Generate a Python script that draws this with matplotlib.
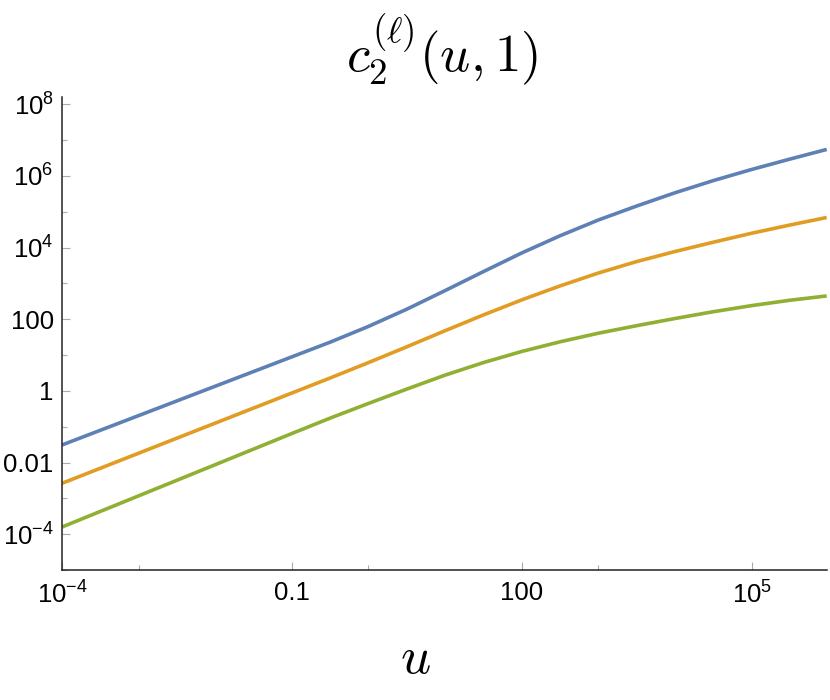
import numpy as np
import matplotlib
matplotlib.use("Agg")
import matplotlib.pyplot as plt
from matplotlib.ticker import FixedLocator, FixedFormatter

plt.rcParams['font.family'] = ['Liberation Sans', 'DejaVu Sans']
plt.rcParams['mathtext.fontset'] = 'custom'
plt.rcParams['mathtext.rm'] = 'Liberation Sans'
plt.rcParams['mathtext.it'] = 'Liberation Sans:italic'

# curve samples as log10 values
log_u = [-4, -3, -2, -1, -0.5, 0, 0.5, 1, 1.5, 2, 2.5, 3, 3.5, 4, 4.5, 5, 5.5, 5.98]
log_c_blue = [-1.51, -0.69, 0.13, 0.95, 1.36, 1.80, 2.28, 2.80, 3.33, 3.85, 4.33, 4.77,
              5.16, 5.53, 5.87, 6.18, 6.47, 6.74]
log_c_orange = [-2.58, -1.74, -0.90, -0.06, 0.36, 0.79, 1.23, 1.68, 2.12, 2.54, 2.93, 3.29,
                3.61, 3.89, 4.15, 4.40, 4.63, 4.84]
log_c_green = [-3.80, -2.93, -2.06, -1.19, -0.76, -0.35, 0.05, 0.44, 0.79, 1.10, 1.37, 1.61,
               1.82, 2.02, 2.21, 2.38, 2.53, 2.65]

colors = ['#5E81B5', '#E19C24', '#8FB032']

x_major = [1e-4, 0.1, 100, 1e5]
x_labels = [r'$\mathregular{10^{-4}}$', '0.1', '100', r'$\mathregular{10^{5}}$']
x_minor = [1e-3, 1, 1e3]
y_major = [1e-4, 1e-2, 1, 100, 1e4, 1e6, 1e8]
y_labels = [r'$\mathregular{10^{-4}}$', '0.01', '1', '100',
            r'$\mathregular{10^{4}}$', r'$\mathregular{10^{6}}$', r'$\mathregular{10^{8}}$']
y_minor = [1e-5, 1e-3, 1e-1, 10, 1e3, 1e5, 1e7]

fig = plt.figure(figsize=(8.3, 7), dpi=100)
ax = fig.add_axes([62/830, 130/700, 764.7/830, 472.7/700])

u = 10.0 ** np.array(log_u)
for series, col in zip([log_c_blue, log_c_orange, log_c_green], colors):
    ax.plot(u, 10.0 ** np.array(series), color=col, lw=2.6, solid_capstyle='butt',
            solid_joinstyle='round')

ax.set_xscale('log')
ax.set_yscale('log')
ax.set_xlim(1e-4, 10 ** 5.98)
ax.set_ylim(1e-5, 10 ** 8.195)

ax.xaxis.set_major_locator(FixedLocator(x_major))
ax.xaxis.set_major_formatter(FixedFormatter(x_labels))
ax.xaxis.set_minor_locator(FixedLocator(x_minor))
ax.xaxis.set_minor_formatter(FixedFormatter([]))
ax.yaxis.set_major_locator(FixedLocator(y_major))
ax.yaxis.set_major_formatter(FixedFormatter(y_labels))
ax.yaxis.set_minor_locator(FixedLocator(y_minor))
ax.yaxis.set_minor_formatter(FixedFormatter([]))

ax.spines['right'].set_visible(False)
ax.spines['top'].set_visible(False)
for s in ['left', 'bottom']:
    ax.spines[s].set_color('#222222')
    ax.spines[s].set_linewidth(1.1)

ax.tick_params(which='major', direction='in', length=6, width=0.8, color='#aaaaaa',
               labelsize=18.5, labelcolor='black')
ax.tick_params(which='minor', direction='in', length=3.5, width=0.8, color='#aaaaaa')
ax.tick_params(axis='x', which='major', pad=8)
ax.tick_params(axis='y', which='major', pad=6)

fig.text(442/830, 1 - 50/700, r'$c_2^{(\ell)}(u,1)$', fontsize=38,
         ha='center', va='center', math_fontfamily='cm')
fig.text(415/830, 1 - 659/700, r'$u$', fontsize=38,
         ha='center', va='center', math_fontfamily='cm')

fig.savefig('out.png', dpi=100)
